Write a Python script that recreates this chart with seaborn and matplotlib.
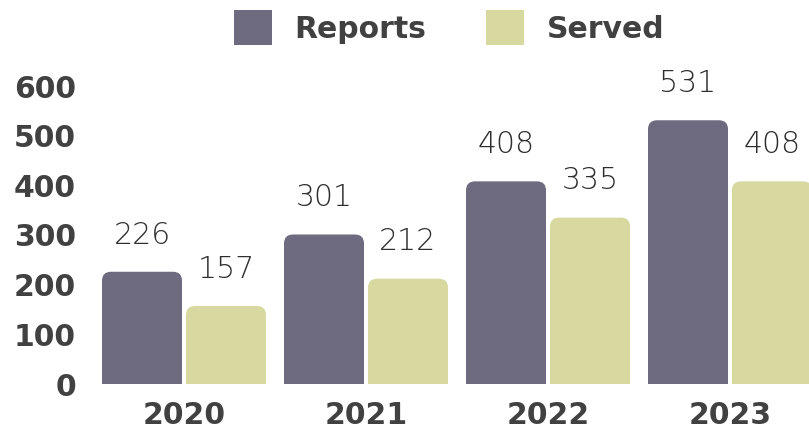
import seaborn as sns
import matplotlib.pyplot as plt
import pandas as pd
from matplotlib.patches import FancyBboxPatch, Patch

years = ["2020", "2021", "2022", "2023"]
reports = [226, 301, 408, 531]
served = [157, 212, 335, 408]
series = ["Reports", "Served"]
colors = ["#6e6a80", "#d8d9a0"]

df = pd.DataFrame({
    "year": years * 2,
    "value": reports + served,
    "series": ["Reports"] * len(years) + ["Served"] * len(years),
})

sns.set_theme(style="white")
plt.rcParams["font.family"] = ["DejaVu Sans"]
text_color = "#414141"

W, H = 809, 430
fig = plt.figure(figsize=(W / 100, H / 100), dpi=100)
ax = fig.add_axes([80 / W, (H - 384) / H, (W - 80) / W, (384 - 70) / H])

sns.barplot(data=df, x="year", y="value", hue="series", palette=colors,
            width=0.923, gap=0.0475, legend=False, ax=ax, saturation=1)

ax.set_xlim((80 - 184) / 182, (W - 184) / 182)
ax.set_ylim(0, 600 * (384 - 70) / 298)
ax.set_yticks(range(0, 601, 100))
ax.set_xlabel("")
ax.set_ylabel("")
sns.despine(ax=ax, left=True, bottom=True)
ax.tick_params(axis="both", length=0, labelsize=21.5, colors=text_color)
ax.tick_params(axis="y", pad=3)
ax.tick_params(axis="x", pad=12)
for lab in ax.get_xticklabels() + ax.get_yticklabels():
    lab.set_fontweight("bold")

for cont in ax.containers:
    ax.bar_label(cont, padding=16, fontsize=21.5, fontweight="light", color="#2e2e2e")

# swap plain rectangles for ones with rounded tops
fig.canvas.draw()
to_disp = ax.transData
p0 = to_disp.transform((0, 0))
p1 = to_disp.transform((1, 1))
aspect = (1 / (p1[1] - p0[1])) / (1 / (p1[0] - p0[0]))
r_px = 9
r_x = r_px / (p1[0] - p0[0])
r_y = r_x * aspect
for cont in ax.containers:
    for rect in cont:
        x, y = rect.get_x(), rect.get_y()
        w, h = rect.get_width(), rect.get_height()
        fb = FancyBboxPatch((x, y - r_y), w, h + r_y,
                            boxstyle=f"round,pad=0,rounding_size={r_x}",
                            mutation_aspect=aspect, facecolor=rect.get_facecolor(),
                            edgecolor="none", linewidth=0)
        rect.set_visible(False)
        ax.add_patch(fb)

handles = [Patch(facecolor=c, edgecolor="none") for c in colors]
fig.legend(handles, series, loc="upper center", bbox_to_anchor=(449 / W, 1 + 2 / H),
           ncol=2, frameon=False, handlelength=1.28, handleheight=1.45,
           handletextpad=0.75, columnspacing=2.0, borderaxespad=0,
           prop={"weight": "bold", "size": 21.5})
for t in fig.legends[0].get_texts():
    t.set_color(text_color)

fig.savefig("out.png", dpi=100)
